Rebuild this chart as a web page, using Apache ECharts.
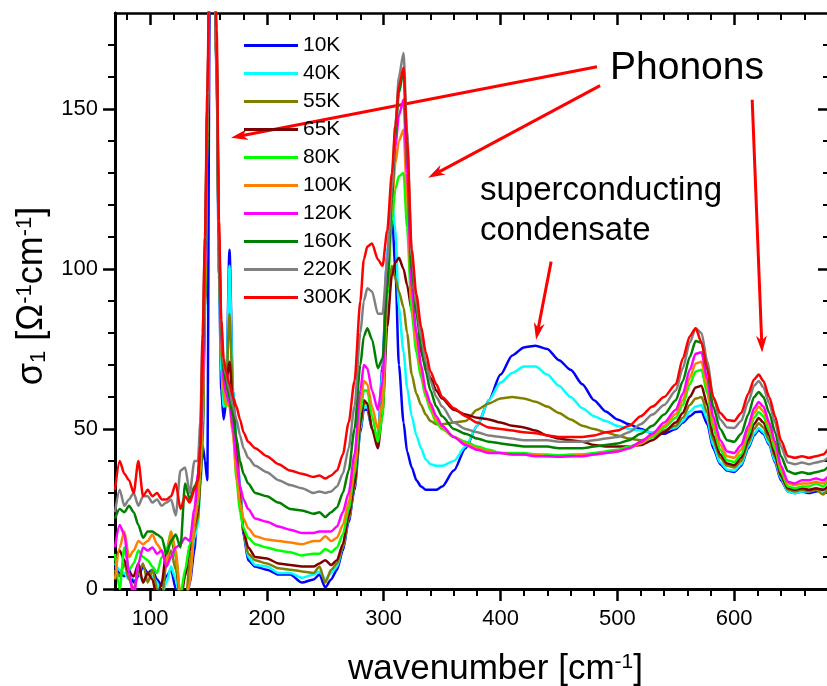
<!DOCTYPE html>
<html>
<head>
<meta charset="utf-8">
<script src="https://cdn.jsdelivr.net/npm/echarts@6/dist/echarts.min.js"></script>
<style>
  html, body { margin: 0; padding: 0; background: #fff; overflow: hidden; }
  #chart { width: 835px; height: 686px; }
</style>
</head>
<body>
<div id="chart"></div>
<script>
// wavenumber grid (cm^-1), shared by all temperatures
const wavenumber = [70,74,78,82,86,90,94,98,102,106,110,114,118,122,126,130,134,138,
  141,143,145,147,149,151,153,155,157,159,161,163,165,
  168,171,174,177,180,184,190,
  200,210,220,230,240,245,250,255,260,265,
  270,275,280,283,286,290,295,299,303,
  307,310,313,317,320,324,328,332,336,340,345,350,
  360,370,380,390,400,410,420,430,440,450,460,470,480,490,500,510,520,530,540,550,
  556,562,567,572,577,582,588,594,600,606,612,617,621,625,630,635,640,646,652,658,664,670,676,680];

const temperatures = ['10K','40K','55K','65K','80K','100K','120K','160K','220K','300K'];

const sigma10K = [7,5,4,6,2,4,7,5,6,3,1,4,6,0,-5,-10,2,12,
  30,38,45,40,34,180,220,198,160,98,62,53,58,
  106,62,46,32,17,9,7,
  6,4.5,4.5,2,3,4.5,0.5,3,6,12,
  21,31,49,56,56,50,46,70,105,
  118,100,70,52,43,38,34,32,31,31,31,32,
  37,44,51,59,67,73,75.5,76,75,71.5,68.5,64,59,55.5,53,51.5,50,48.7,48.5,50,
  52,54,55.3,55.5,51.5,44,39,37,36.6,38.5,44,48,49.7,48.5,45,39.5,34,30.5,30,30.5,30,30.5,31,30.5];

const sigma40K = [8,6,5,3,4,6,2,5,4,2,-2,2,7,3,-3,-8,4,16,
  20,32,45,85,140,195,220,198,162,100,68,57,58,
  101,62,46,32,18,10,7.5,
  7,5,5,3.5,4.5,5.5,3,5,7,13,
  22,32,50,57,57,50,46,68,105,
  122,112,88,74,63,54,48,44,40.5,39,38.5,38.5,
  40,44.5,51,59,64.5,67.5,69.5,69.5,67,63.5,60,56.5,54,52.5,51,50,49.5,49,49.5,50.5,
  52.5,55.5,57,57.5,53,45,39.5,37.3,37,39,44.5,48.5,50.3,49,45.5,40,34.5,30.5,30,30.5,30.5,31,30.5,31];

const sigma55K = [6,4,8,3,0,5,8,2,6,0,-3,8,12,6,-2,-6,8,18,
  22,33,48,88,140,195,220,198,163,105,75,63,62,
  86,60,44,30,18,11,9,
  8,6.5,6,5.5,5,7,2,6,8,13,
  22,32,51,58,58,50,45,60,92,
  101,97,93,88,80,67,61,57.5,54.5,52.5,51.5,51.5,
  52,52.5,56,58,59.5,60,59.5,58.5,57,55,53,51,50,49,48,47,46.5,47.5,49.5,51,
  53.5,57.5,59.5,60,55,46.5,41,38.5,38,40,45.5,50,51.8,50.5,46.5,41,35,31,30.5,31,30.5,31,29.5,31];

const sigma65K = [9,12,9,5,4,8,2,5,3,-3,2,12,16,10,-4,4,12,20,
  24,34,50,90,140,195,220,198,163,105,76,66,64,
  71,58,42,28,18,13,10,
  9.5,8,7.5,7,7,8,9,7.5,9,14,
  23,33,52,59,58,50,44,55,82,
  98,102,103.5,100,95,87,80,74,69.5,66,62,59.5,
  56,54.5,53.5,53,52,51,50.5,49.5,48,47,46.5,46,45,44.5,44.5,44.5,45,46.5,49,52,
  55,60,63,63.5,57.5,48,42,39.2,38.7,41,46.5,51.5,53.4,52,48,42,35.5,31.5,31,31.5,31,31.5,31,32];

const sigma80K = [11,0,13,6,8,12,10,9,7,5,10,12,18,10,-2,6,14,22,
  26,36,52,92,142,195,220,198,163,105,75,60,57,
  61,50,34,24,19,16,14,
  13,12,11.5,10.5,11,11,12.5,11.5,13,17,
  25,36,55,62,62,54,46,54,92,
  115,125,129,130,113,86,74,66,60,56,52,50,
  47.5,46,44.5,43.5,42.5,42.5,42.5,42,42,41.8,42,42,42.5,43,43.5,44.5,45.5,47.5,50.5,53.5,
  57.5,64,68,68.5,61,50.5,43.5,40.2,39.7,42,48,53.5,55.3,54,49.5,43.5,36.5,32,31.5,32,32,33,32,33.5];

const sigma100K = [3,13,18,10,12,15,14,15,17,14,12,8,18,12,-3,-5,2,20,
  28,38,55,95,145,195,220,198,163,106,76,62,58,
  57,48,36,27,22,19,16.5,
  15.5,15,14.5,14,15,15,16.5,15,16,20,
  27,38,58,65,64,57,50,58,95,
  120,133,140,143.5,122,90,77,68,61,57,53,50.5,
  47.5,45.5,44,43,42.5,42,42,42,41.5,41.5,41.5,42,42,42.5,43,44,45.5,48,51,54.7,
  59,66,70.5,71,63,52,45,41.5,41,43.5,49.5,55,57,55.5,51,45,37.5,33,32.5,33,33,33.5,33,34];

const sigma120K = [13,20,17,5,-3,8,13,12,13,11,12,7,10,13,14,16,15,25,
  36,44,60,100,148,195,220,200,165,108,78,65,61,
  58,50,40,32,28,25,22,
  21,19.5,18.5,17.5,17.5,18,18,18,19.5,24,
  30,42,62,70,69,62,56,65,102,
  125,138,148,153,130,94,80,70,62,58,54,51,
  47.5,45,43.5,42.5,42.5,42,42,41.5,41.5,41.3,41.5,41.5,42,42.5,43,44,46,48.5,52,56,
  61,68.5,73.5,74,65.5,54,46.5,43,42.5,45,51,56.5,58.4,57,52,46,38.5,33.5,33,34,34,34.5,34,35];

const sigma160K = [22,25,24,26,24,20,16,18,18,17,16,11,15,17,13,33,28,32,
  34,45,72,105,150,195,220,200,168,110,80,68,65,
  60,54,47,40,36,33,30,
  29,27,25,24.5,23.5,24,22.5,24,25.5,30,
  37,50,70,79,81.5,78,69,72,94,
  122,142,155,162,138,100,86,76,68,62,57,54,
  50,48.5,47,46,45.5,45,44.5,44.5,44.5,44,44,44,44.5,45,45.5,46.5,48.5,51,54.5,59,
  65,72.5,77.5,77,68.5,57,50,46.5,46,48.5,54.5,60,61.6,60,55,49,41.5,36.8,36,36.5,36,36.5,37,38];

const sigma220K = [24,31,26,28,30,26,29,29,27,28,26,27,28,23,37,38,30,40,
  40,52,80,108,150,195,220,200,170,112,82,70,67,
  62,57,53,48,44,41,38.5,
  36.5,34,32.5,31.5,30,30.5,30,30.5,32,36,
  44,57,80,90,94,93,86,86,102,
  125,145,160,167.5,143,104,89,79,71,65,60,57,
  52,50,49,48,47.5,47,46.5,46.5,46.5,46,46,46,46.5,47,47.5,49,51.5,54.5,57.5,62,
  69,77,81.5,80,71,60,53,50.5,50.3,52.5,58.5,63.5,65,63,58,52,44.5,39.5,39,39.5,39,39.5,40,41];

const sigma300K = [31,40,36,34,30,40,29,31,29,30,28,28,29,33,25,29,27,31,
  34,45,78,110,155,200,225,205,175,115,84,72,68,
  64,60,57,53,49,46,44,
  41.5,39,37,36,35,35.5,34.5,35.5,37,42,
  52,65,90,103,107,108,103,101,112,
  130,145,157,163,140,106,92,82,74,68,64,60,
  56.5,54,52,50.5,50,49.5,49,48.7,48,47.5,47.5,47.5,48,49,49.5,51,54,57,60,64,
  72,79,81.5,77,69,60,55,52.8,52.5,55,61,65.5,67,65,60,54,46.5,41.5,41,41.5,41,41.5,42,43.5];

const sigmaByTemp = [sigma10K, sigma40K, sigma55K, sigma65K, sigma80K,
  sigma100K, sigma120K, sigma160K, sigma220K, sigma300K];
const colors = ['#0000ff','#00ffff','#808000','#800000','#00ff00',
  '#ff8000','#ff00ff','#008000','#808080','#ff0000'];

// tick positions
const xMajor = [100,200,300,400,500,600];
const xMinor = [80,120,140,160,180,220,240,260,280,320,340,360,380,420,440,460,480,520,540,560,580,620,640,660,680];
const yMajor = [0,50,100,150];
const yMinor = [10,20,30,40,60,70,80,90,110,120,130,140,160,170];

// annotations, in data coordinates
const arrows = [
  [[482.6,163.2],[169.3,141.0]],
  [[485.2,157.3],[338.0,128.5]],
  [[443.3,102.3],[430.4,77.9]],
  [[615.4,152.9],[623.9,73.9]]
];
const notes = [
  { text: 'Phonons', at: [493.7,162.8], size: 39 },
  { text: 'superconducting', at: [382.4,124.5], size: 33 },
  { text: 'condensate', at: [382.4,112.0], size: 33 }
];

const FONT = '"Liberation Sans", Arial, sans-serif';
const X_MIN = 70, X_MAX = 682, Y_MIN = 0, Y_MAX = 180;

function xAxis(position, ticks, len, inside, withLine, withLabel) {
  return {
    type: 'value', position, min: X_MIN, max: X_MAX,
    axisLine: { show: withLine, onZero: false, lineStyle: { color: '#000', width: position === 'bottom' ? 3 : 2.5 } },
    axisTick: { show: true, inside, length: len, customValues: ticks, lineStyle: { color: '#000', width: len > 9 ? 2.5 : 2 } },
    axisLabel: withLabel
      ? { show: true, customValues: ticks, margin: 19, fontSize: 22, color: '#000', fontFamily: FONT }
      : { show: false },
    splitLine: { show: false }
  };
}

function yAxis(position, ticks, len, inside, withLine, withLabel) {
  return {
    type: 'value', position, min: Y_MIN, max: Y_MAX,
    axisLine: { show: withLine, onZero: false, lineStyle: { color: '#000', width: 3 } },
    axisTick: { show: true, inside, length: len, customValues: ticks, lineStyle: { color: '#000', width: len > 9 ? 2.5 : 2 } },
    axisLabel: withLabel
      ? { show: true, customValues: ticks, margin: 17, fontSize: 22, color: '#000', fontFamily: FONT }
      : { show: false },
    splitLine: { show: false }
  };
}

const xAxes = [
  xAxis('bottom', xMajor, 12, false, true, true),
  xAxis('bottom', xMinor, 7, false, false, false),
  xAxis('top', xMajor, 12, true, true, false),
  xAxis('top', xMinor, 7, true, false, false)
];
Object.assign(xAxes[0], {
  name: 'wavenumber [cm{sup|-1}]',
  nameLocation: 'middle',
  nameGap: 63,
  nameTextStyle: {
    fontSize: 35, color: '#000', fontFamily: FONT, padding: [0, 0, 0, 46],
    rich: { sup: { fontSize: 21, verticalAlign: 'top', fontFamily: FONT, color: '#000' } }
  }
});

const yAxes = [
  yAxis('left', yMajor, 12, false, true, true),
  yAxis('left', yMinor, 7, false, false, false),
  yAxis('right', yMajor, 12, true, true, false),
  yAxis('right', yMinor, 7, true, false, false)
];
Object.assign(yAxes[0], {
  name: 'σ{sub|1} [Ω{sup|-1}cm{sup|-1}]',
  nameLocation: 'middle',
  nameGap: 61,
  nameRotate: 90,
  nameTextStyle: {
    fontSize: 36, color: '#000', fontFamily: FONT, padding: [0, 0, 0, 10],
    rich: {
      sup: { fontSize: 22, verticalAlign: 'top', fontFamily: FONT, color: '#000' },
      sub: { fontSize: 22, verticalAlign: 'bottom', fontFamily: FONT, color: '#000' }
    }
  }
});

const series = temperatures.map((t, i) => ({
  name: t,
  type: 'line',
  xAxisIndex: 0,
  yAxisIndex: 0,
  data: wavenumber.map((w, k) => [w, sigmaByTemp[i][k]]),
  symbol: 'none',
  smooth: 0.25,
  smoothMonotone: 'x',
  clip: true,
  lineStyle: { color: colors[i], width: 2.5 },
  itemStyle: { color: colors[i] },
  animation: false
}));

const chart = echarts.init(document.getElementById('chart'), null, { renderer: 'canvas' });
chart.setOption({
  backgroundColor: '#fff',
  animation: false,
  grid: { left: 115, top: 13, width: 715, height: 576, outerBoundsMode: 'none', containLabel: false },
  legend: {
    data: temperatures,
    orient: 'vertical',
    left: 244, top: 35, padding: 0,
    icon: 'rect',
    itemWidth: 54, itemHeight: 3, itemGap: 7,
    textStyle: { fontSize: 21, color: '#000', fontFamily: FONT }
  },
  xAxis: xAxes,
  yAxis: yAxes,
  series
});

function toPx(p) {
  return chart.convertToPixel({ gridIndex: 0 }, p);
}

function arrowShapes(from, to) {
  const p = toPx(from), q = toPx(to);
  const dx = q[0] - p[0], dy = q[1] - p[1];
  const len = Math.hypot(dx, dy), ux = dx / len, uy = dy / len;
  const hl = 17, hw = 5.5;
  const bx = q[0] - ux * hl, by = q[1] - uy * hl;
  const nx = q[0] - ux * hl * 0.7, ny = q[1] - uy * hl * 0.7;
  return [
    { type: 'line', silent: true,
      shape: { x1: p[0], y1: p[1], x2: nx, y2: ny },
      style: { stroke: '#ff0000', lineWidth: 3 } },
    { type: 'polygon', silent: true,
      shape: { points: [q, [bx - uy * hw, by + ux * hw], [nx, ny], [bx + uy * hw, by - ux * hw]] },
      style: { fill: '#ff0000' } }
  ];
}

const graphic = [];
arrows.forEach(a => graphic.push(...arrowShapes(a[0], a[1])));
notes.forEach(n => {
  const p = toPx(n.at);
  graphic.push({
    type: 'text', silent: true, x: p[0], y: p[1],
    style: { text: n.text, fill: '#000', font: n.size + 'px ' + FONT, align: 'left', verticalAlign: 'middle' }
  });
});
chart.setOption({ graphic });
</script>
</body>
</html>
